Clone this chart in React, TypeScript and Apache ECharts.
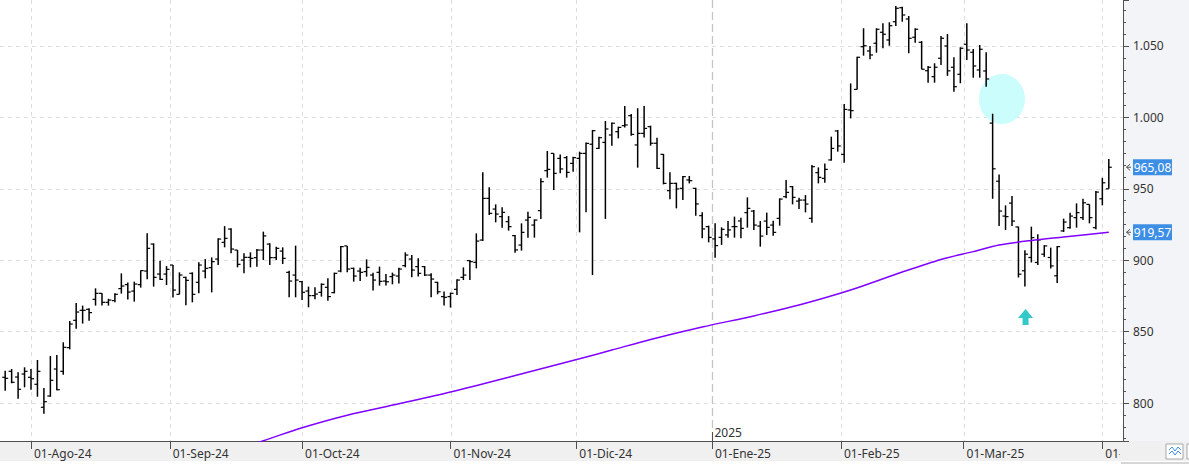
import React, { useEffect, useRef } from "react";
import * as echarts from "echarts";

// ---- calendar (US trading days) ----
const START_DATE = "2024-07-26";
const END_DATE = "2025-04-02";
const HOLIDAYS = ["2024-09-02", "2024-11-28", "2024-12-25", "2025-01-01", "2025-01-09", "2025-01-20", "2025-02-17"];
const MONTHS_ES = ["Ene", "Feb", "Mar", "Abr", "May", "Jun", "Jul", "Ago", "Sep", "Oct", "Nov", "Dic"];

// ---- OHLC values (one per trading day) ----
const OPEN = [
  818.0, 822.2, 818.2, 820.3, 818.0, 813.1, 797.0, 804.9, 823.8, 822.2,
  838.8, 857.9, 864.9, 865.6, 872.6, 876.8, 870.5, 871.7, 880.1, 882.9,
  878.4, 882.9, 892.4, 911.3, 890.3, 890.3, 896.6, 876.1, 888.0, 890.8,
  884.5, 892.4, 894.8, 900.8, 912.5, 921.8, 907.1, 900.1, 902.0, 901.8,
  907.1, 911.3, 901.8, 906.4, 891.5, 889.6, 885.0, 878.4, 875.2, 877.5,
  881.0, 877.3, 892.4, 910.0, 894.3, 892.4, 892.0, 889.6, 891.5, 885.4,
  888.5, 888.9, 896.2, 900.8, 895.5, 895.5, 889.6, 884.5, 874.5, 874.5,
  879.6, 888.0, 899.7, 898.5, 914.1, 943.3, 935.8, 930.5, 927.0, 917.2,
  910.6, 928.1, 924.6, 934.7, 962.7, 974.8, 971.3, 971.8, 967.8, 971.3,
  974.8, 981.2, 978.3, 982.5, 987.7, 990.0, 994.2, 1001.2, 980.7, 988.8,
  993.5, 981.9, 974.1, 948.7, 953.8, 950.3, 956.2, 950.3, 931.2, 923.5,
  914.9, 916.0, 917.7, 923.5, 927.5, 933.3, 934.4, 923.9, 927.4, 924.6,
  929.3, 944.5, 951.5, 941.4, 942.1, 929.3, 961.3, 957.3, 970.2, 990.5,
  974.1, 1005.2, 1019.6, 1049.5, 1046.5, 1051.9, 1059.6, 1054.2, 1067.0, 1076.8,
  1068.9, 1056.1, 1052.6, 1032.7, 1028.5, 1041.4, 1050.0, 1035.1, 1030.2, 1051.2,
  1045.6, 1033.2, 1032.5, 996.0, 955.3, 930.9, 940.0, 923.3, 892.6, 901.9,
  898.4, 904.2, 901.9, 889.1, 920.5, 922.8, 929.8, 929.8, 939.1, 922.8,
  943.0, 950.0,
];
const HIGH = [
  822.6, 823.8, 821.5, 825.0, 823.8, 830.1, 810.5, 832.9, 833.6, 842.5,
  857.4, 870.0, 868.2, 866.3, 880.3, 876.8, 873.0, 876.8, 890.8, 884.3,
  885.0, 892.9, 918.8, 911.8, 899.7, 895.9, 896.6, 891.5, 888.4, 891.5,
  898.5, 900.8, 902.0, 915.3, 923.9, 922.3, 907.1, 904.8, 905.5, 907.8,
  920.0, 911.8, 909.5, 909.0, 892.7, 910.2, 885.4, 881.5, 881.0, 883.8,
  887.3, 891.3, 910.0, 910.0, 894.8, 894.8, 900.6, 891.3, 895.5, 890.3,
  891.3, 894.8, 905.5, 903.6, 901.3, 895.9, 890.8, 884.9, 878.0, 877.3,
  886.6, 895.0, 900.1, 918.8, 961.5, 951.0, 939.1, 937.0, 930.9, 917.6,
  925.8, 934.0, 928.6, 957.3, 976.5, 974.8, 974.1, 973.0, 972.5, 976.0,
  982.5, 991.2, 986.5, 997.5, 996.5, 993.5, 1008.0, 1002.4, 1006.4, 1008.0,
  994.2, 985.8, 974.4, 961.5, 954.3, 959.0, 959.0, 950.8, 933.5, 924.2,
  925.8, 923.0, 927.5, 930.5, 929.8, 944.0, 935.1, 927.4, 933.3, 927.7,
  943.3, 956.2, 951.9, 943.8, 945.6, 966.7, 965.0, 967.8, 986.5, 991.2,
  1009.4, 1023.8, 1042.5, 1062.4, 1050.0, 1062.4, 1065.9, 1066.6, 1078.0, 1077.5,
  1071.0, 1062.4, 1053.5, 1036.0, 1037.9, 1057.0, 1058.4, 1042.1, 1049.1, 1065.9,
  1047.9, 1050.7, 1045.6, 1002.6, 960.0, 938.4, 944.9, 923.5, 907.0, 923.5,
  918.1, 910.5, 908.8, 910.0, 929.1, 933.3, 939.8, 943.0, 939.1, 948.4,
  957.7, 970.9,
];
const LOW = [
  808.6, 813.8, 803.0, 811.0, 809.3, 804.4, 792.5, 804.4, 808.9, 819.8,
  837.6, 852.0, 855.6, 857.6, 868.2, 868.2, 868.2, 870.5, 876.6, 872.4,
  871.0, 880.8, 886.6, 881.5, 886.1, 882.6, 873.8, 876.1, 868.4, 870.5,
  876.8, 887.3, 877.5, 896.6, 909.0, 904.8, 895.0, 890.8, 895.0, 895.5,
  900.1, 896.6, 900.1, 897.3, 874.0, 874.0, 872.1, 867.0, 872.6, 874.5,
  871.6, 876.8, 891.5, 891.5, 885.0, 885.4, 888.5, 878.7, 882.2, 882.2,
  883.1, 883.6, 895.0, 888.0, 888.5, 888.9, 874.0, 876.1, 868.2, 866.8,
  875.6, 886.1, 886.1, 894.3, 913.4, 931.6, 926.5, 922.8, 920.7, 905.3,
  906.7, 915.8, 915.8, 928.8, 957.8, 949.2, 960.8, 957.8, 962.0, 919.5,
  933.5, 889.6, 977.9, 928.9, 980.2, 985.3, 993.0, 987.2, 964.8, 986.0,
  980.2, 963.9, 953.1, 942.6, 936.3, 942.2, 953.8, 931.2, 915.3, 912.5,
  901.8, 910.7, 915.8, 915.8, 915.3, 922.8, 921.1, 909.5, 917.6, 917.2,
  924.2, 943.3, 939.1, 935.8, 933.5, 926.3, 953.8, 954.3, 969.7, 976.0,
  968.3, 999.3, 1019.6, 1043.2, 1040.7, 1045.3, 1048.4, 1050.2, 1064.0, 1067.0,
  1044.9, 1052.3, 1033.7, 1024.3, 1024.3, 1036.7, 1029.1, 1018.0, 1023.9, 1040.2,
  1027.8, 1027.8, 1021.5, 943.0, 924.0, 921.2, 924.0, 887.9, 881.6, 898.4,
  896.7, 902.3, 894.2, 884.0, 919.8, 922.1, 922.8, 928.1, 925.8, 921.6,
  938.4, 950.0,
];
const CLOSE = [
  817.3, 814.5, 809.6, 822.2, 817.0, 822.2, 800.9, 815.9, 809.3, 839.0,
  855.3, 863.7, 864.9, 863.3, 876.8, 870.5, 872.1, 876.1, 881.9, 877.7,
  883.3, 892.7, 908.3, 888.0, 886.6, 893.6, 879.1, 889.6, 885.9, 876.1,
  896.6, 894.3, 899.0, 914.8, 915.3, 907.8, 897.1, 902.0, 901.3, 907.1,
  917.0, 901.8, 908.3, 901.3, 885.4, 886.1, 877.5, 875.2, 876.3, 883.1,
  874.5, 890.8, 909.5, 893.8, 888.9, 891.5, 895.0, 886.1, 885.2, 884.9,
  889.6, 893.8, 903.6, 893.1, 890.8, 889.6, 886.8, 877.9, 874.0, 876.8,
  886.1, 889.6, 899.0, 913.4, 943.3, 932.8, 932.3, 933.5, 923.5, 907.2,
  919.5, 930.0, 928.1, 955.0, 963.6, 960.8, 963.9, 961.5, 971.8, 974.8,
  981.8, 990.7, 985.8, 991.9, 995.9, 993.0, 994.7, 988.1, 988.8, 992.3,
  981.9, 964.3, 953.8, 953.8, 949.9, 958.5, 955.7, 939.4, 921.9, 916.0,
  910.2, 921.6, 921.2, 923.5, 922.3, 936.3, 924.6, 916.9, 923.0, 919.5,
  942.8, 947.5, 944.0, 942.1, 939.3, 965.5, 958.0, 963.6, 978.3, 980.0,
  1005.6, 1004.7, 1042.1, 1050.2, 1043.7, 1061.7, 1058.2, 1064.2, 1076.4, 1071.7,
  1055.4, 1061.7, 1033.7, 1035.1, 1035.1, 1055.4, 1032.6, 1021.5, 1048.4, 1047.2,
  1036.0, 1047.7, 1026.9, 964.0, 934.4, 930.5, 927.4, 890.2, 904.2, 915.8,
  914.2, 910.0, 896.0, 909.5, 926.7, 930.9, 933.3, 940.2, 929.8, 947.7,
  954.2, 965.08,
];

// ---- moving average (sampled at bar indices) ----
const MA_INDEX = [36, 40, 46, 53, 61, 69, 78, 89, 94, 100, 108, 116, 123, 131, 139, 145, 150, 154, 159, 164, 171];
const MA_VALUE = [768.0, 773.6, 782.7, 791.5, 799.5, 807.7, 818.0, 831.0, 837.1, 844.5, 853.2, 861.0, 868.6, 879.1, 891.7, 900.5, 906.0, 910.6, 913.8, 916.2, 919.57];

// ---- annotations / tags ----
const LAST_PRICE = 965.08;
const MA_LAST = 919.57;
const CIRCLE_AT = [154.45, 1012.9];
const ARROW_AT = [158.1, 865.8];

// ---- axis ranges ----
const X_MIN = -0.803;
const X_MAX = 173.2;
const Y_MIN = 773.4;
const Y_MAX = 1082.2;

const FONT = '"Segoe UI", "Noto Sans", "Open Sans", sans-serif';

function tradingDays(): string[] {
  const out: string[] = [];
  const d = new Date(START_DATE + "T00:00:00Z");
  const end = new Date(END_DATE + "T00:00:00Z");
  while (d <= end) {
    const wd = d.getUTCDay();
    const s = d.toISOString().slice(0, 10);
    if (wd !== 0 && wd !== 6 && !HOLIDAYS.includes(s)) out.push(s);
    d.setUTCDate(d.getUTCDate() + 1);
  }
  return out;
}

function fmtThousands(v: number): string {
  const r = Math.round(v);
  if (r >= 1000) return Math.floor(r / 1000) + "." + String(r % 1000).padStart(3, "0");
  return String(r);
}

export default function App() {
  const ref = useRef<HTMLDivElement>(null);

  useEffect(() => {
    if (!ref.current) return;
    const chart = echarts.init(ref.current, null, { renderer: "svg" });
    const dates = tradingDays();

    const monthTicks: { pos: number; label: string; yearStart: boolean; year: number }[] = [];
    for (let i = 1; i < dates.length; i++) {
      const [y0, m0] = dates[i - 1].split("-").map(Number);
      const [y1, m1, d1] = dates[i].split("-").map(Number);
      if (m1 !== m0) {
        monthTicks.push({
          pos: d1 === 1 ? i : i - 0.5,
          label: "01-" + MONTHS_ES[m1 - 1] + "-" + String(y1).slice(2),
          yearStart: y1 !== y0,
          year: y1,
        });
      }
    }
    const monthPos = monthTicks.map((t) => t.pos);

    const ohlc = dates.map((_, i) => [i, OPEN[i], HIGH[i], LOW[i], CLOSE[i]]);
    const ma = MA_INDEX.map((i, k) => [i, MA_VALUE[k]]);

    chart.setOption({
      animation: false,
      textStyle: { fontFamily: FONT },
      grid: { left: 0, right: 66, top: 0, bottom: 23, containLabel: false },
      xAxis: {
        type: "value",
        min: X_MIN,
        max: X_MAX,
        position: "bottom",
        axisLine: { show: true, onZero: false, lineStyle: { color: "#505050", width: 1 } },
        axisTick: { show: true, customValues: monthPos, length: 8, lineStyle: { color: "#505050" } },
        axisLabel: {
          show: true,
          customValues: monthPos,
          formatter: (v: number) => {
            const t = monthTicks.find((m) => Math.abs(m.pos - v) < 0.01);
            return t ? t.label : "";
          },
          align: "left",
          margin: 6,
          padding: [0, 0, 0, 3],
          color: "#333",
          fontSize: 12,
          fontFamily: FONT,
        },
        splitLine: { show: false },
      },
      yAxis: {
        type: "value",
        position: "right",
        min: Y_MIN,
        max: Y_MAX,
        splitNumber: 5,
        axisLine: { show: true, onZero: false, lineStyle: { color: "#505050", width: 1 } },
        axisTick: { show: true, length: 6, lineStyle: { color: "#505050" } },
        minorTick: { show: true, splitNumber: 6, length: 3, lineStyle: { color: "#505050" } },
        axisLabel: {
          margin: 10,
          color: "#333",
          fontSize: 12,
          fontFamily: FONT,
          showMinLabel: false,
          showMaxLabel: false,
          formatter: (v: number) => fmtThousands(v),
        },
        splitLine: {
          show: true,
          showMinLine: false,
          showMaxLine: false,
          lineStyle: { color: "#dedede", type: [4, 4], width: 1 },
        },
      },
      series: [
        {
          type: "custom",
          z: 3,
          data: ohlc,
          encode: { x: 0, y: [1, 2, 3, 4] },
          renderItem: (params: any, api: any) => {
            const i = api.value(0);
            const x = api.coord([i, api.value(2)])[0];
            const yH = api.coord([i, api.value(2)])[1];
            const yL = api.coord([i, api.value(3)])[1];
            const yO = api.coord([i, api.value(1)])[1];
            const yC = api.coord([i, api.value(4)])[1];
            const st = { stroke: "#000", lineWidth: 1.5 };
            const tk = { stroke: "#000", lineWidth: 1.2 };
            return {
              type: "group",
              children: [
                { type: "line", shape: { x1: x, y1: yH, x2: x, y2: yL }, style: st },
                { type: "line", shape: { x1: x - 3, y1: yO, x2: x, y2: yO }, style: tk },
                { type: "line", shape: { x1: x, y1: yC, x2: x + 3, y2: yC }, style: tk },
              ],
            };
          },
        },
        {
          type: "line",
          z: 4,
          data: ma,
          symbol: "none",
          smooth: 0.3,
          clip: true,
          lineStyle: { color: "#8000ff", width: 1.5 },
        },
      ],
    });

    const px = (x: number, y: number) => chart.convertToPixel({ gridIndex: 0 }, [x, y]) as number[];
    const top = px(0, Y_MAX)[1];
    const bottom = px(0, Y_MIN)[1];
    const right = px(X_MAX, Y_MIN)[0];
    const W = 1189;

    const graphics: any[] = [];
    // backgrounds
    graphics.push({ type: "rect", z: -10, shape: { x: right, y: 0, width: W - right, height: bottom }, style: { fill: "#f3f4f7" } });
    graphics.push({ type: "rect", z: -10, shape: { x: 0, y: bottom, width: W, height: 20 }, style: { fill: "#f0f0f0" } });
    // month gridlines
    monthTicks.forEach((t) => {
      const x = Math.round(px(t.pos, Y_MIN)[0]) + 0.5;
      if (t.yearStart) {
        graphics.push({
          type: "line", z: 1,
          shape: { x1: x, y1: top, x2: x, y2: bottom },
          style: { stroke: "#c4c4c4", lineWidth: 1.3, lineDash: [8, 4] },
        });
        graphics.push({
          type: "line", z: 1,
          shape: { x1: x, y1: bottom - 9, x2: x, y2: bottom },
          style: { stroke: "#505050", lineWidth: 1 },
        });
        graphics.push({
          type: "text", z: 5, x: x + 2, y: bottom - 15,
          style: { text: String(t.year), fill: "#333", fontSize: 12, fontFamily: FONT },
        });
      } else {
        graphics.push({
          type: "line", z: 1,
          shape: { x1: x, y1: top, x2: x, y2: bottom },
          style: { stroke: "#dedede", lineWidth: 1, lineDash: [4, 4] },
        });
      }
    });
    // circle annotation
    const c = px(CIRCLE_AT[0], CIRCLE_AT[1]);
    graphics.push({ type: "ellipse", z: 1, shape: { cx: c[0], cy: c[1], rx: 23, ry: 25 }, style: { fill: "#ccfdfd" } });
    // arrow annotation
    const a = px(ARROW_AT[0], ARROW_AT[1]);
    graphics.push({
      type: "polygon", z: 5,
      shape: {
        points: [
          [a[0], a[1]], [a[0] + 7.5, a[1] + 9], [a[0] + 3, a[1] + 9], [a[0] + 3, a[1] + 16],
          [a[0] - 3, a[1] + 16], [a[0] - 3, a[1] + 9], [a[0] - 7.5, a[1] + 9],
        ],
      },
      style: { fill: "#33c9c9" },
    });
    // price tags
    const tag = (v: number) => {
      const y = px(0, v)[1];
      graphics.push({ type: "rect", z: 20, shape: { x: right + 10, y: y - 8, width: 39, height: 16 }, style: { fill: "#3d8fe6" } });
      graphics.push({
        type: "text", z: 21, x: right + 29.5, y: y,
        style: { text: v.toFixed(2).replace(".", ","), fill: "#fff", fontSize: 12, fontFamily: FONT, align: "center", verticalAlign: "middle" },
      });
      graphics.push({ type: "polyline", z: 21, shape: { points: [[right + 7, y - 3], [right + 3.5, y], [right + 7, y + 3]] }, style: { stroke: "#555", lineWidth: 1, fill: null } });
      graphics.push({ type: "line", z: 21, shape: { x1: right + 3.5, y1: y, x2: right + 8, y2: y }, style: { stroke: "#555", lineWidth: 1 } });
    };
    tag(LAST_PRICE);
    tag(MA_LAST);
    // clip bottom-right corner + icon
    graphics.push({ type: "rect", z: 50, shape: { x: right - 3, y: bottom + 1, width: W - right + 3, height: 19 }, style: { fill: "#f0f0f0" } });
    graphics.push({ type: "rect", z: 51, shape: { x: 1166, y: 444, width: 17, height: 15 }, style: { fill: "#fff", stroke: "#a8a8a8", lineWidth: 1 } });
    graphics.push({ type: "polyline", z: 52, shape: { points: [[1169, 450], [1172, 447], [1175, 451], [1178, 447], [1181, 450]] }, style: { stroke: "#3d8fe6", lineWidth: 1, fill: null } });
    graphics.push({ type: "polyline", z: 52, shape: { points: [[1169, 454], [1172, 451], [1175, 455], [1178, 451], [1181, 454]] }, style: { stroke: "#3d8fe6", lineWidth: 1, fill: null } });
    graphics.push({ type: "rect", z: 51, shape: { x: 1187, y: 444, width: 4, height: 15 }, style: { fill: "#fff", stroke: "#a8a8a8", lineWidth: 1 } });
    graphics.push({ type: "rect", z: 51, shape: { x: right - 2, y: 462, width: W - right + 2, height: 2 }, style: { fill: "#d6d6d6" } });

    chart.setOption({ graphic: graphics });

    return () => chart.dispose();
  }, []);

  return <div ref={ref} style={{ position: "absolute", left: 0, top: 0, width: 1189, height: 464 }} />;
}
